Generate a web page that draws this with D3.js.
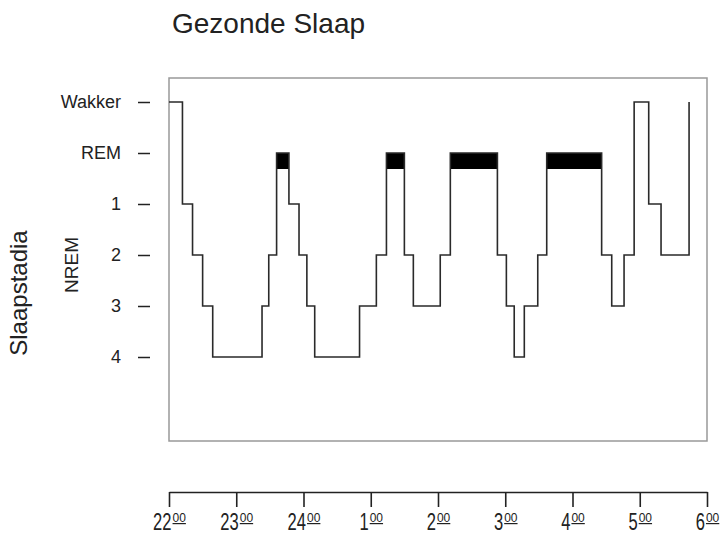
<!DOCTYPE html>
<html lang="nl">
<head>
    <meta charset="UTF-8">
    <title>Gezonde Slaap</title>
    <script src="https://d3js.org/d3.v7.min.js"></script>
    <style>
        body { margin: 0; background: #fff; }
        text { font-family: "Liberation Sans", Arial, Helvetica, sans-serif; fill: #222; }
    </style>
</head>
<body>
<script>
// sleep stages, top to bottom
const stages = ["Wakker", "REM", "1", "2", "3", "4"];
// hour labels on the time axis (superscript 00 added when drawn)
const hourLabels = ["22", "23", "24", "1", "2", "3", "4", "5", "6"];
// moment of each stage change, in minutes after 22:00
const changeMinutes = [0, 12, 21, 30, 39, 83, 89, 96, 107, 116, 123, 130, 170, 185, 194, 210,
    218, 242, 251, 293, 301, 308, 317, 329, 337, 386, 395, 406, 415, 428, 439, 464];
// stage entered at that moment
const changeStages = ["Wakker", "1", "2", "3", "4", "3", "2", "REM", "1", "2", "3", "4", "3", "2", "REM", "2",
    "3", "2", "REM", "2", "3", "4", "3", "2", "REM", "2", "3", "2", "Wakker", "1", "2", "Wakker"];

const width = 721, height = 534;

const svg = d3.select("body").append("svg")
    .attr("width", width)
    .attr("height", height);

const x = d3.scaleLinear()
    .domain([0, 480])
    .range([169, 707]);

const y = d3.scalePoint()
    .domain(stages)
    .range([102, 357]);

const hypno = changeMinutes.map((t, i) => ({t: t, stage: changeStages[i]}));

// title
svg.append("text")
    .attr("x", 172)
    .attr("y", 33)
    .attr("font-size", 28)
    .text("Gezonde Slaap");

// plot frame
svg.append("rect")
    .attr("x", 169)
    .attr("y", 78)
    .attr("width", 538)
    .attr("height", 363)
    .attr("fill", "none")
    .attr("stroke", "#999")
    .attr("stroke-width", 1.5);

// y axis: dashes + stage names
const yAxis = svg.append("g")
    .attr("transform", "translate(150,0)")
    .call(d3.axisLeft(y).tickSize(12).tickPadding(17));
yAxis.select(".domain").remove();
yAxis.selectAll(".tick line").attr("stroke", "#222").attr("stroke-width", 1.5);
yAxis.selectAll(".tick text")
    .attr("font-size", 18)
    .attr("font-family", "'Liberation Sans', Arial, sans-serif")
    .attr("fill", "#222");

svg.append("text")
    .attr("transform", "translate(78,265) rotate(-90)")
    .attr("text-anchor", "middle")
    .attr("font-size", 19)
    .text("NREM");

svg.append("text")
    .attr("transform", "translate(27,293) rotate(-90)")
    .attr("text-anchor", "middle")
    .attr("font-size", 24)
    .text("Slaapstadia");

// REM blocks
const remSegs = hypno.slice(0, -1)
    .map((d, i) => ({start: d.t, end: hypno[i + 1].t, stage: d.stage}))
    .filter(d => d.stage === "REM");

svg.selectAll("rect.rem")
    .data(remSegs)
    .enter().append("rect")
    .attr("class", "rem")
    .attr("x", d => x(d.start))
    .attr("y", y("REM"))
    .attr("width", d => x(d.end) - x(d.start))
    .attr("height", 16)
    .attr("fill", "#000");

// hypnogram step line
const line = d3.line()
    .x(d => x(d.t))
    .y(d => y(d.stage))
    .curve(d3.curveStepAfter);

svg.append("path")
    .datum(hypno)
    .attr("d", line)
    .attr("fill", "none")
    .attr("stroke", "#2a2a2a")
    .attr("stroke-width", 1.6);

// time axis below the frame
const xAxis = svg.append("g")
    .attr("transform", "translate(0,492)")
    .call(d3.axisBottom(x)
        .tickValues(d3.range(0, 481, 60))
        .tickSize(15)
        .tickSizeOuter(0)
        .tickFormat(""));
xAxis.select(".domain").attr("stroke", "#222").attr("stroke-width", 1.6);
xAxis.selectAll(".tick line").attr("stroke", "#222").attr("stroke-width", 1.6);
xAxis.selectAll(".tick text").remove();

xAxis.selectAll(".tick").each(function(d, i) {
    const g = d3.select(this);
    const main = g.append("text")
        .attr("text-anchor", "start")
        .attr("font-size", 23)
        .attr("fill", "#222")
        .text(hourLabels[i]);
    const sup = g.append("text")
        .attr("text-anchor", "start")
        .attr("font-size", 12)
        .attr("fill", "#222")
        .attr("text-decoration", "underline")
        .text("00");
    const sx = 0.72;
    const wMain = main.node().getComputedTextLength() * sx;
    const wSup = sup.node().getComputedTextLength();
    const left = -(wMain + 1 + wSup) / 2;
    main.attr("transform", `translate(${left},38) scale(${sx},1)`);
    sup.attr("x", left + wMain + 1).attr("y", 30);
});
</script>
</body>
</html>
